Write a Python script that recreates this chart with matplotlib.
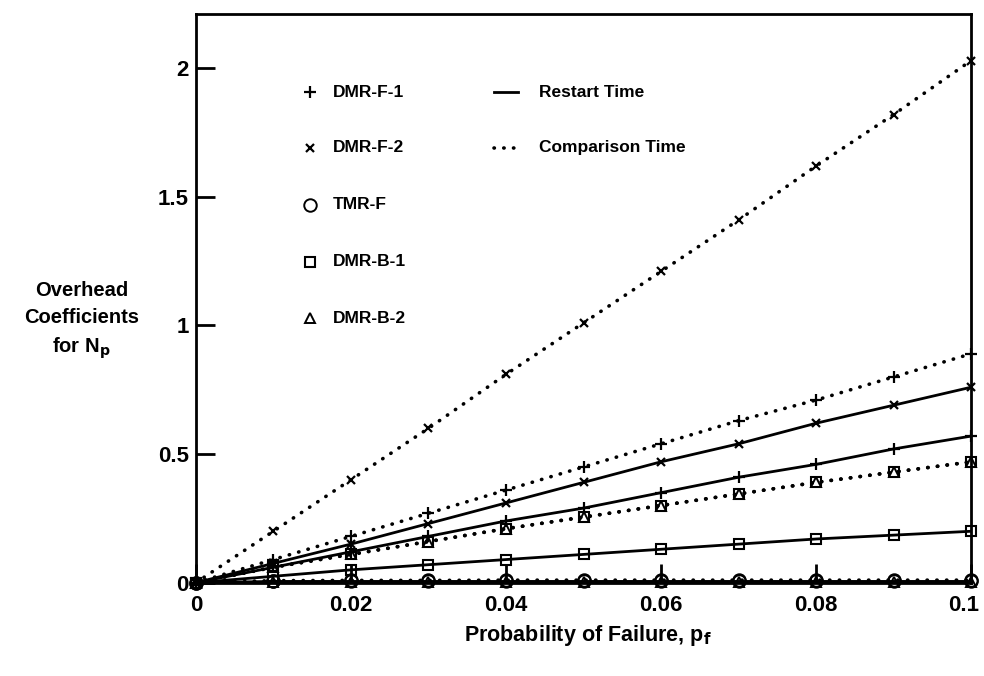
import matplotlib
matplotlib.use("Agg")
import matplotlib.pyplot as plt
import matplotlib.transforms as mtransforms
import numpy as np

plt.rcParams['font.family'] = ['Liberation Sans', 'DejaVu Sans']
plt.rcParams['font.weight'] = 'bold'

p_fail = [0.0, 0.01, 0.02, 0.03, 0.04, 0.05, 0.06, 0.07, 0.08, 0.09, 0.10]

# Comparison time (dotted)
dmr_f1_cmp = [0, 0.09, 0.18, 0.27, 0.36, 0.45, 0.54, 0.63, 0.71, 0.80, 0.89]
dmr_f2_cmp = [0, 0.20, 0.40, 0.60, 0.81, 1.01, 1.21, 1.41, 1.62, 1.82, 2.03]
tmr_f_cmp = [0, 0.008, 0.009, 0.009, 0.01, 0.01, 0.01, 0.01, 0.01, 0.01, 0.01]
dmr_b1_cmp = [0, 0.06, 0.11, 0.16, 0.21, 0.255, 0.30, 0.345, 0.39, 0.43, 0.47]
dmr_b2_cmp = [0, 0.06, 0.11, 0.16, 0.21, 0.255, 0.30, 0.345, 0.39, 0.43, 0.47]

# Restart time (solid)
dmr_f1_rst = [0, 0.06, 0.12, 0.18, 0.24, 0.29, 0.35, 0.41, 0.46, 0.52, 0.57]
dmr_f2_rst = [0, 0.075, 0.15, 0.23, 0.31, 0.39, 0.47, 0.54, 0.62, 0.69, 0.76]
tmr_f_rst = [0, 0.005, 0.005, 0.005, 0.005, 0.005, 0.005, 0.005, 0.005, 0.005, 0.005]
dmr_b1_rst = [0, 0.025, 0.05, 0.07, 0.09, 0.11, 0.13, 0.15, 0.17, 0.185, 0.20]
dmr_b2_rst = [0, 0.001, 0.001, 0.001, 0.001, 0.001, 0.001, 0.001, 0.001, 0.001, 0.001]

x_ticks = [0, 0.02, 0.04, 0.06, 0.08, 0.1]
x_tick_labels = ['0', '0.02', '0.04', '0.06', '0.08', '0.1']
y_ticks = [0, 0.5, 1, 1.5, 2]
y_tick_labels = ['0', '0.5', '1', '1.5', '2']

legend_series = ['DMR-F-1', 'DMR-F-2', 'TMR-F', 'DMR-B-1', 'DMR-B-2']
legend_styles = ['Restart Time', 'Comparison Time']

markers = {'DMR-F-1': dict(marker='+', ms=8, mew=1.6),
           'DMR-F-2': dict(marker='x', ms=6, mew=1.6),
           'TMR-F': dict(marker='o', ms=9, mew=1.4, mfc='none'),
           'DMR-B-1': dict(marker='s', ms=7, mew=1.5, mfc='none'),
           'DMR-B-2': dict(marker='^', ms=6.5, mew=1.4, mfc='none')}

fig = plt.figure(figsize=(9.84, 6.76), dpi=100)
ax = fig.add_axes([0.199, 0.138, 0.788, 0.841])

dot = dict(ls=(0, (0.1, 2.6)), lw=2.6, dash_capstyle='round', color='black')
sol = dict(ls='-', lw=2.0, color='black')

cmp_data = {'DMR-F-1': dmr_f1_cmp, 'DMR-F-2': dmr_f2_cmp, 'TMR-F': tmr_f_cmp,
            'DMR-B-1': dmr_b1_cmp, 'DMR-B-2': dmr_b2_cmp}
rst_data = {'DMR-F-1': dmr_f1_rst, 'DMR-F-2': dmr_f2_rst, 'TMR-F': tmr_f_rst,
            'DMR-B-1': dmr_b1_rst, 'DMR-B-2': dmr_b2_rst}

for name in legend_series:
    ax.plot(p_fail, cmp_data[name], **dot)
    ax.plot(p_fail, rst_data[name], **sol)
    ax.plot(p_fail, cmp_data[name], ls='none', color='black', clip_on=False, **markers[name])
    ax.plot(p_fail, rst_data[name], ls='none', color='black', clip_on=False, **markers[name])

ax.set_xlim(0, 0.1)
ax.set_ylim(0, 2.21)
ax.set_xticks(x_ticks)
ax.set_xticklabels(x_tick_labels)
ax.set_yticks(y_ticks)
ax.set_yticklabels(y_tick_labels)
ax.tick_params(direction='in', length=14, width=2, labelsize=16)
ax.tick_params(axis='x', pad=9)
ax.tick_params(axis='y', pad=5)
for lab in ax.get_xticklabels() + ax.get_yticklabels():
    lab.set_fontweight('bold')
# shift the last x tick label a little left so it stays inside the figure
last = ax.get_xticklabels()[-1]
last.set_transform(last.get_transform() +
                   mtransforms.ScaledTranslation(-8 / 100, 0, fig.dpi_scale_trans))
for s in ax.spines.values():
    s.set_linewidth(2)

# Legend (manual, in axes fraction)
rows = [0.863, 0.765, 0.665, 0.565, 0.465]
for name, yy in zip(legend_series, rows):
    ax.plot([0.147], [yy], transform=ax.transAxes, ls='none', color='black',
            clip_on=False, **markers[name])
    ax.text(0.177, yy, name, transform=ax.transAxes, va='center', ha='left',
            fontsize=12.5, fontweight='bold')
ax.plot([0.385, 0.415], [rows[0], rows[0]], transform=ax.transAxes, **sol)
ax.plot([0.385, 0.415], [rows[1], rows[1]], transform=ax.transAxes, **dot)
for lab, yy in zip(legend_styles, rows[:2]):
    ax.text(0.443, yy, lab, transform=ax.transAxes, va='center', ha='left',
            fontsize=12.5, fontweight='bold')

fig.text(0.083, 0.525, 'Overhead\nCoefficients\nfor N$_\\mathbf{p}$', ha='center',
         va='center', fontsize=14.5, fontweight='bold', linespacing=1.5)
fig.text(0.597, 0.06, 'Probability of Failure, p$_\\mathbf{f}$', ha='center',
         va='center', fontsize=15.5, fontweight='bold')

fig.savefig('out.png', dpi=100)
